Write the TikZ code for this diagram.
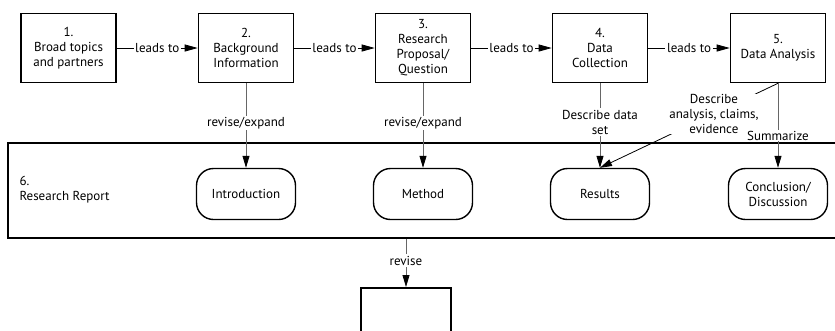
\documentclass[tikz,border=0pt]{standalone}
\usepackage{fontspec}
\setmainfont{PT Sans}
\usetikzlibrary{positioning,arrows.meta}
\tikzset{
  stepbox/.style={draw, line width=1.6pt, minimum width=95pt, minimum height=69pt, align=center, inner sep=2pt},
  partbox/.style={draw, line width=1.4pt, rounded corners=17pt, minimum width=99pt, minimum height=51pt, align=center},
  lead/.style={-{Triangle[length=13pt,width=7pt]}, line width=0.8pt},
  feed/.style={-{Triangle[length=12pt,width=7pt,color=black]}, gray!80!black, line width=0.8pt},
  lbl/.style={fill=white, text=black, inner sep=1.5pt, align=center}
}
\begin{document}
\begin{tikzpicture}[x=1pt, y=-1pt, font=\fontsize{13}{15}\selectfont]
\useasboundingbox (0,0) rectangle (835,330);
\clip (0,0) rectangle (835,330);

% steps
\node[stepbox] (s1) at (68.5,48) {1.\\Broad topics\\and partners};
\node[stepbox] (s2) at (246,48) {2.\\Background\\Information};
\node[stepbox] (s3) at (423,48) {3.\\Research\\Proposal/\\Question};
\node[stepbox] (s4) at (600,48) {4.\\Data\\Collection};
\node[stepbox] (s5) at (778,48) {5.\\Data Analysis};

\draw[lead] (s1) -- node[lbl]{leads to} (s2);
\draw[lead] (s2) -- node[lbl]{leads to} (s3);
\draw[lead] (s3) -- node[lbl]{leads to} (s4);
\draw[lead] (s4) -- node[lbl]{leads to} (s5);

% report
\node[draw, line width=1.6pt, minimum width=837pt, minimum height=95pt] (report) at (426.5,190.5) {};
\node[align=left, anchor=west] (rlabel) at (16,190) {6.\\Research Report};

\node[partbox] (intro) at (246,194) {Introduction};
\node[partbox] (method) at (423,194) {Method};
\node[partbox] (results) at (600,194) {Results};
\node[partbox] (concl) at (778,194) {Conclusion/\\Discussion};

\draw[feed] (s2) -- node[lbl, pos=0.47]{revise/expand} (intro);
\draw[feed] (s3) -- node[lbl, pos=0.47]{revise/expand} (method);
\draw[feed] (s4) -- node[lbl, pos=0.46]{Describe data\\set} (results);
\draw[feed, black] (s5.south) -- node[lbl, pos=0.36, inner sep=0.5pt]{Describe\\analysis, claims,\\evidence} (results.north);
\draw[feed] (s5) -- node[lbl, pos=0.62, inner sep=1pt]{Summarize} (concl);

% next step
\node[draw, line width=1.6pt, minimum width=90pt, minimum height=70pt, anchor=north] (final) at (406,287) {};
\draw[feed] (report.south -| final.north) -- node[lbl, pos=0.45]{revise} (final.north);
\end{tikzpicture}
\end{document}
